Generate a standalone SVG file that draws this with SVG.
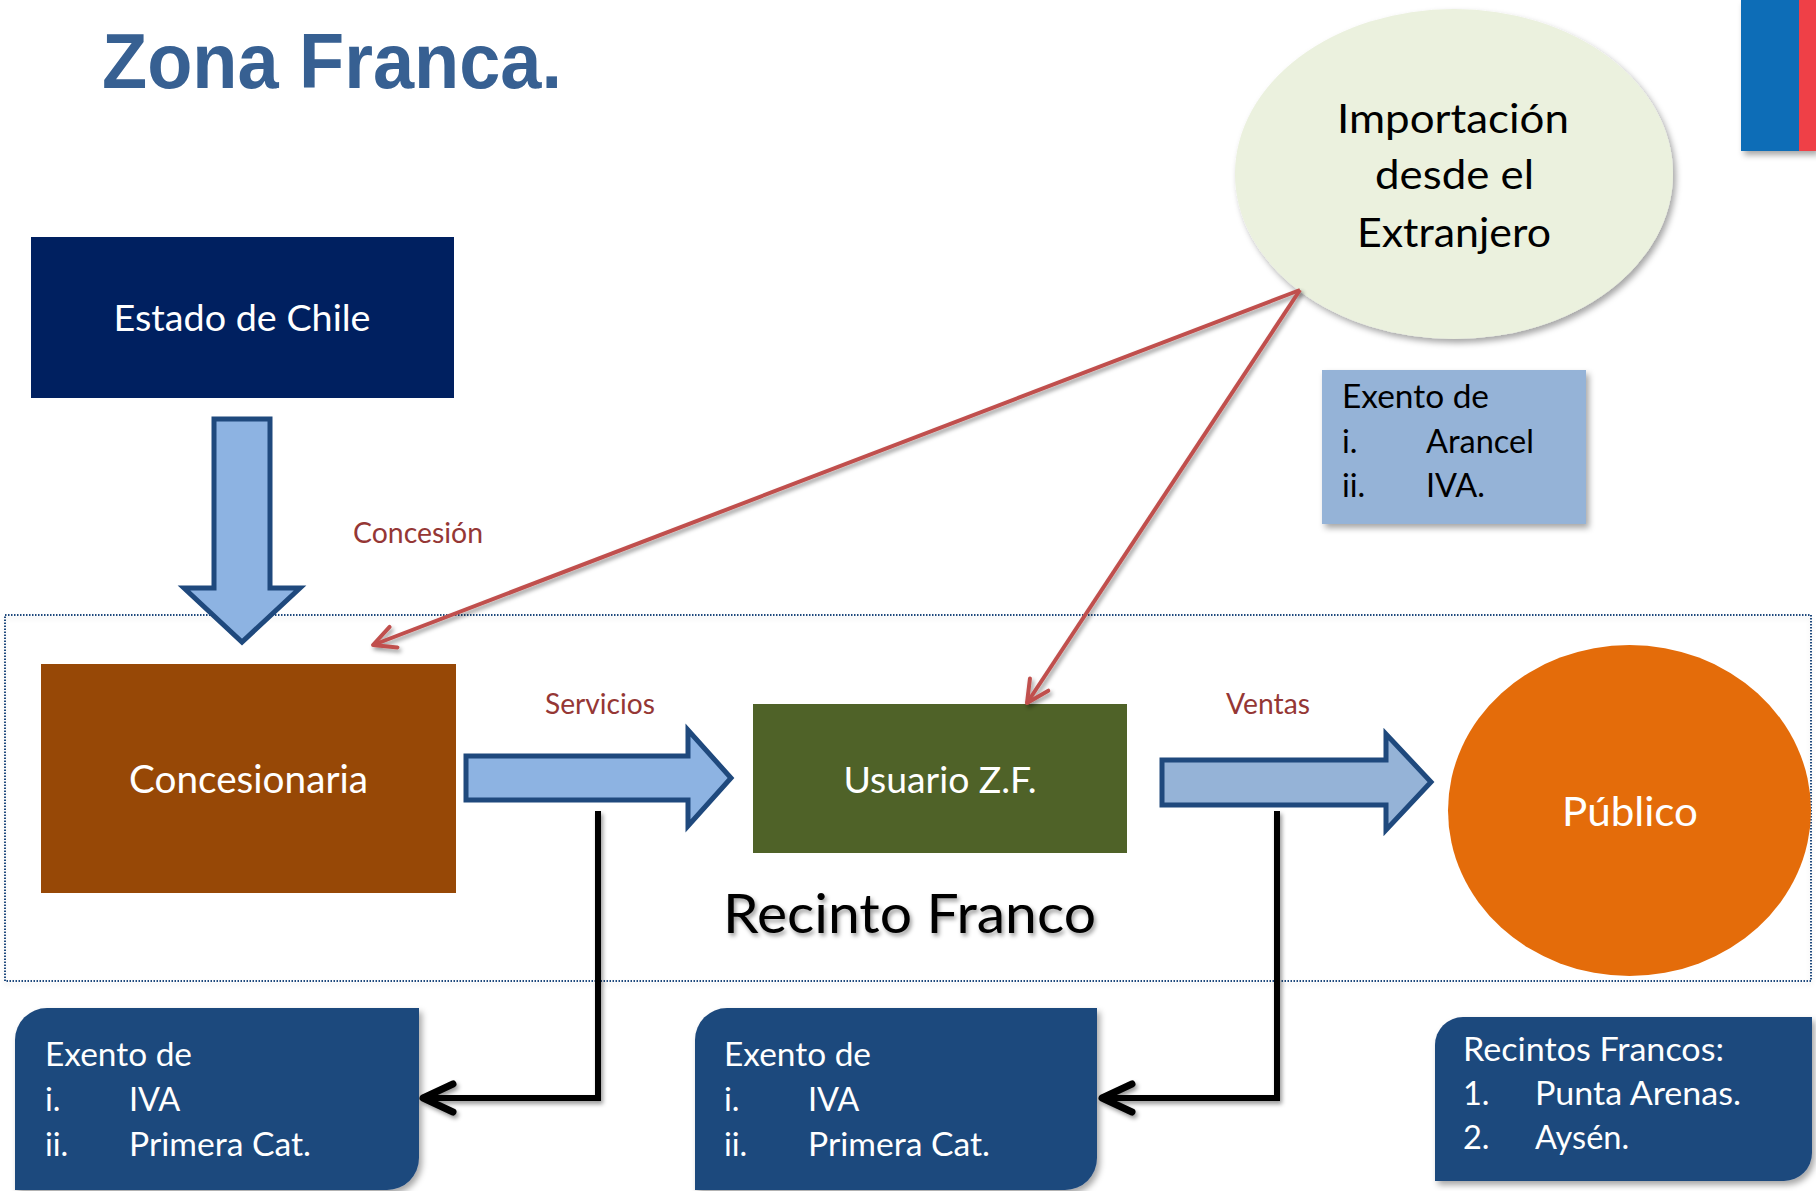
<svg xmlns="http://www.w3.org/2000/svg" width="1816" height="1191" viewBox="0 0 1816 1191">
<defs>
<style>
.t{font-family:Lato,"Open Sans","Liberation Sans",sans-serif;}
.w{fill:#FFFFFF;}
.k{fill:#000000;}
.lbl{font-family:Lato,"Open Sans","Liberation Sans",sans-serif;font-size:28.5px;fill:#953735;}
.box{font-family:Lato,"Open Sans","Liberation Sans",sans-serif;font-size:32.5px;}
.blk{fill:#8DB3E2;stroke:#1F497D;stroke-width:5;stroke-linejoin:miter;}
.red{fill:none;stroke:#C0504D;stroke-width:4;}
.conn{fill:none;stroke:#000000;stroke-width:6;}
</style>
<filter id="sh" x="-20%" y="-20%" width="150%" height="150%">
<feDropShadow dx="3" dy="4" stdDeviation="3" flood-color="#000" flood-opacity="0.35"/>
</filter>
<filter id="shS" x="-20%" y="-20%" width="150%" height="150%">
<feDropShadow dx="2" dy="3" stdDeviation="2" flood-color="#000" flood-opacity="0.4"/>
</filter>
<filter id="shL" x="-5%" y="-20%" width="110%" height="150%">
<feDropShadow dx="0" dy="3" stdDeviation="2" flood-color="#000" flood-opacity="0.12"/>
</filter>
<marker id="redHead" markerUnits="userSpaceOnUse" markerWidth="40" markerHeight="40" viewBox="-30 -20 40 40" refX="0" refY="0" orient="auto" overflow="visible">
<path d="M-22,-11 L0,0 L-22,11" fill="none" stroke="#C0504D" stroke-width="4" stroke-linecap="round" stroke-linejoin="round"/>
</marker>
<marker id="blkHead" markerUnits="userSpaceOnUse" markerWidth="50" markerHeight="50" viewBox="-40 -25 50 50" refX="0" refY="0" orient="auto" overflow="visible">
<path d="M-30,-14 L0,0 L-30,14" fill="none" stroke="#000000" stroke-width="7" stroke-linecap="round" stroke-linejoin="round"/>
</marker>
</defs>

<rect width="1816" height="1191" fill="#FFFFFF"/>

<g id="title">
<text x="102" y="88" font-family="'Liberation Sans',Arial,sans-serif" font-weight="bold" font-size="77" fill="#376092" textLength="460" lengthAdjust="spacingAndGlyphs">Zona Franca.</text>
</g>

<g id="flag" filter="url(#sh)">
<rect x="1741" y="0" width="58" height="151" fill="#0A6DB7"/>
<rect x="1799" y="0" width="17" height="151" fill="#EF4147"/>
</g>

<g id="recinto-franco">
<rect x="5" y="615" width="1806" height="366" fill="none" stroke="#1F497D" stroke-width="2" stroke-dasharray="1.5 1.5" filter="url(#shL)"/>
<text class="t k" x="909.5" y="933" font-size="55" text-anchor="middle" textLength="373" lengthAdjust="spacingAndGlyphs" filter="url(#shS)">Recinto Franco</text>
</g>

<g id="importacion">
<ellipse cx="1454" cy="174" rx="219" ry="165" fill="#EBF1DE" filter="url(#sh)"/>
<text class="t k" x="1453" y="133" font-size="41.5" text-anchor="middle" textLength="232" lengthAdjust="spacingAndGlyphs">Importación</text>
<text class="t k" x="1454.5" y="189" font-size="41.5" text-anchor="middle" textLength="159" lengthAdjust="spacingAndGlyphs">desde el</text>
<text class="t k" x="1454" y="247" font-size="41.5" text-anchor="middle" textLength="194" lengthAdjust="spacingAndGlyphs">Extranjero</text>
</g>

<g id="exento-importacion">
<rect x="1322" y="370" width="264" height="154" fill="#95B3D7" filter="url(#sh)"/>
<text class="box k" x="1342" y="408" textLength="147" lengthAdjust="spacingAndGlyphs">Exento de</text>
<text class="box k" x="1342" y="453">i.</text>
<text class="box k" x="1426" y="453">Arancel</text>
<text class="box k" x="1342" y="497">ii.</text>
<text class="box k" x="1426" y="497">IVA.</text>
</g>

<g id="estado">
<rect x="31" y="237" width="423" height="161" fill="#002060"/>
<text class="t w" x="242" y="331" font-size="37" text-anchor="middle" textLength="257" lengthAdjust="spacingAndGlyphs">Estado de Chile</text>
</g>

<g id="concesionaria">
<rect x="41" y="664" width="415" height="229" fill="#974806"/>
<text class="t w" x="248.5" y="793" font-size="38" text-anchor="middle" textLength="239" lengthAdjust="spacingAndGlyphs">Concesionaria</text>
</g>

<g id="usuario">
<rect x="753" y="704" width="374" height="149" fill="#4F6228"/>
<text class="t w" x="940" y="793" font-size="36" text-anchor="middle" textLength="193" lengthAdjust="spacingAndGlyphs">Usuario Z.F.</text>
</g>

<g id="publico">
<ellipse cx="1629.5" cy="810.5" rx="181.5" ry="165.5" fill="#E46C0A"/>
<text class="t w" x="1630" y="826" font-size="40.5" text-anchor="middle" textLength="136" lengthAdjust="spacingAndGlyphs">Público</text>
</g>

<g id="exento-concesionaria">
<path d="M47,1008 H419 V1158 A32,32 0 0 1 387,1190 H15 V1040 A32,32 0 0 1 47,1008 Z" fill="#1F497D" filter="url(#sh)"/>
<text class="box w" x="45" y="1066" textLength="147" lengthAdjust="spacingAndGlyphs">Exento de</text>
<text class="box w" x="45" y="1111">i.</text>
<text class="box w" x="129" y="1111">IVA</text>
<text class="box w" x="45" y="1156">ii.</text>
<text class="box w" x="129" y="1156" textLength="182" lengthAdjust="spacingAndGlyphs">Primera Cat.</text>
</g>

<g id="exento-usuario">
<path d="M727,1008 H1097 V1158 A32,32 0 0 1 1065,1190 H695 V1040 A32,32 0 0 1 727,1008 Z" fill="#1F497D" filter="url(#sh)"/>
<text class="box w" x="724" y="1066" textLength="147" lengthAdjust="spacingAndGlyphs">Exento de</text>
<text class="box w" x="724" y="1111">i.</text>
<text class="box w" x="808" y="1111">IVA</text>
<text class="box w" x="724" y="1156">ii.</text>
<text class="box w" x="808" y="1156" textLength="182" lengthAdjust="spacingAndGlyphs">Primera Cat.</text>
</g>

<g id="recintos">
<path d="M1463,1017 H1812 V1153 A28,28 0 0 1 1784,1181 H1435 V1045 A28,28 0 0 1 1463,1017 Z" fill="#1F497D" filter="url(#sh)"/>
<text class="box w" x="1463" y="1061" textLength="261" lengthAdjust="spacingAndGlyphs">Recintos Francos:</text>
<text class="box w" x="1463" y="1105">1.</text>
<text class="box w" x="1535" y="1105" textLength="206" lengthAdjust="spacingAndGlyphs">Punta Arenas.</text>
<text class="box w" x="1463" y="1149">2.</text>
<text class="box w" x="1535" y="1149">Aysén.</text>
</g>

<g id="connectors">
<polygon class="blk" points="214,419 270,419 270,588 300,588 242,642 184,588 214,588"/>
<polygon class="blk" points="466,756 688,756 688,730 731,778 688,826 688,800 466,800"/>
<polygon class="blk" points="1162,760 1386,760 1386,734 1431,782 1386,830 1386,805 1162,805" style="fill:#95B3D7"/>
<line class="red" x1="1300" y1="290" x2="373" y2="645" marker-end="url(#redHead)" filter="url(#shS)"/>
<line class="red" x1="1300" y1="290" x2="1027" y2="703" marker-end="url(#redHead)" filter="url(#shS)"/>
<polyline class="conn" points="598,811 598,1098 423,1098" marker-end="url(#blkHead)" filter="url(#shS)"/>
<polyline class="conn" points="1277,811 1277,1098 1102,1098" marker-end="url(#blkHead)" filter="url(#shS)"/>
<text class="lbl" x="353" y="543" textLength="130" lengthAdjust="spacingAndGlyphs">Concesión</text>
<text class="lbl" x="545" y="714" textLength="110" lengthAdjust="spacingAndGlyphs">Servicios</text>
<text class="lbl" x="1226" y="714" textLength="84" lengthAdjust="spacingAndGlyphs">Ventas</text>
</g>
</svg>
